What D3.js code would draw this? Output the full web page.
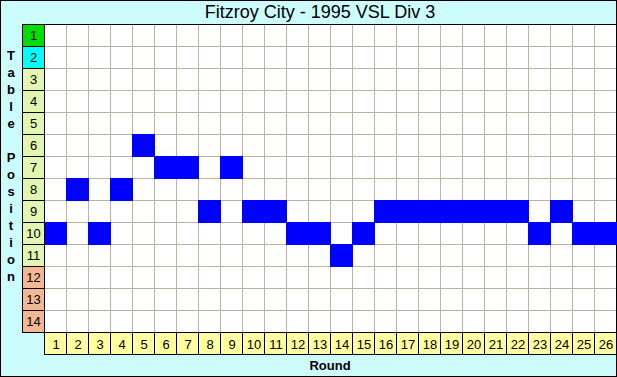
<!DOCTYPE html>
<html>
<head>
<meta charset="utf-8">
<script src="https://cdn.jsdelivr.net/npm/d3@7"></script>
<style>
  body { margin: 0; background: #fff; }
  text { font-family: "Liberation Sans", Arial, sans-serif; }
</style>
</head>
<body>
<div id="chart"></div>
<script>
// data
var title = "Fitzroy City - 1995 VSL Div 3";
var rounds = d3.range(1, 27);
var positions = d3.range(1, 15);
var placing = [10, 8, 10, 8, 6, 7, 7, 9, 7, 9, 9, 10, 10, 11, 10, 9, 9, 9, 9, 9, 9, 9, 10, 9, 10, 10];
var yLabel = "Table Position";
var xLabel = "Round";

var width = 617, height = 377;
var plot = {left: 44, right: 616, top: 24, bottom: 332};

var svg = d3.select("#chart").append("svg")
  .attr("width", width)
  .attr("height", height);

// background + outer border
svg.append("rect")
  .attr("x", 0.5).attr("y", 0.5)
  .attr("width", width - 1).attr("height", height - 1)
  .style("fill", "#ccfcfc")
  .style("stroke", "#000");

var x = d3.scaleBand().domain(rounds).range([plot.left, plot.right]);
var y = d3.scaleBand().domain(positions).range([plot.top, plot.bottom]);

// plot area
svg.append("rect")
  .attr("x", plot.left).attr("y", plot.top)
  .attr("width", plot.right - plot.left).attr("height", plot.bottom - plot.top)
  .style("fill", "#fff");

// grid
svg.selectAll("line.vg").data(rounds.slice(1))
  .enter().append("line")
  .attr("class", "vg")
  .attr("x1", function(d) { return x(d) + 0.5; })
  .attr("x2", function(d) { return x(d) + 0.5; })
  .attr("y1", plot.top).attr("y2", plot.bottom)
  .style("stroke", "#bab2a4");
svg.selectAll("line.hg").data(positions.slice(1))
  .enter().append("line")
  .attr("class", "hg")
  .attr("y1", function(d) { return y(d) + 0.5; })
  .attr("y2", function(d) { return y(d) + 0.5; })
  .attr("x1", plot.left).attr("x2", plot.right)
  .style("stroke", "#bab2a4");

// placings
svg.selectAll("rect.cell").data(placing)
  .enter().append("rect")
  .attr("class", "cell")
  .attr("x", function(d, i) { return x(rounds[i]); })
  .attr("y", function(d) { return y(d); })
  .attr("width", x.bandwidth() + 1)
  .attr("height", y.bandwidth() + 1)
  .style("fill", "#0000ff");

// top border line of the plot
svg.append("line")
  .attr("x1", 22).attr("x2", width)
  .attr("y1", plot.top + 0.5).attr("y2", plot.top + 0.5)
  .style("stroke", "#000");

// position labels on the left
function posColor(p) {
  if (p == 1) return "#00dd00";
  if (p == 2) return "#00ffff";
  if (p <= 11) return "#e2f6b2";
  return "#f2b894";
}
var pos = svg.selectAll("g.pos").data(positions)
  .enter().append("g").attr("class", "pos");
pos.append("rect")
  .attr("x", 22.5)
  .attr("y", function(d) { return y(d) + 0.5; })
  .attr("width", plot.left - 22)
  .attr("height", y.bandwidth())
  .style("fill", posColor)
  .style("stroke", "#000");
pos.append("text")
  .attr("x", 33.5)
  .attr("y", function(d) { return y(d) + y.bandwidth() / 2 + 5; })
  .attr("text-anchor", "middle")
  .style("font-size", "13px")
  .text(function(d) { return d; });

// round labels along the bottom
var rnd = svg.selectAll("g.rnd").data(rounds)
  .enter().append("g").attr("class", "rnd");
rnd.append("rect")
  .attr("x", function(d) { return x(d) + 0.5; })
  .attr("y", plot.bottom + 0.5)
  .attr("width", x.bandwidth())
  .attr("height", 22)
  .style("fill", "#ffffa0")
  .style("stroke", "#000");
rnd.append("text")
  .attr("x", function(d) { return x(d) + x.bandwidth() / 2 + 1; })
  .attr("y", plot.bottom + 17)
  .attr("text-anchor", "middle")
  .style("font-size", "13px")
  .text(function(d) { return d; });

// title
svg.append("text")
  .attr("x", 320)
  .attr("y", 18)
  .attr("text-anchor", "middle")
  .style("font-size", "18px")
  .text(title);

// axis titles
svg.append("text")
  .attr("x", 330)
  .attr("y", 370)
  .attr("text-anchor", "middle")
  .style("font-size", "13px")
  .style("font-weight", "bold")
  .text(xLabel);

svg.selectAll("text.ylab").data(yLabel.split(""))
  .enter().append("text")
  .attr("class", "ylab")
  .attr("x", 11)
  .attr("y", function(d, i) { return 60 + i * 17; })
  .attr("text-anchor", "middle")
  .style("font-size", "13px")
  .style("font-weight", "bold")
  .text(function(d) { return d; });
</script>
</body>
</html>
